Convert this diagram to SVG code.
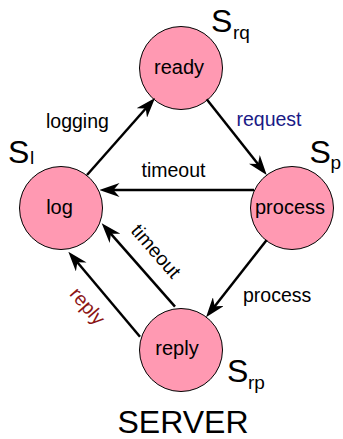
<svg xmlns="http://www.w3.org/2000/svg" width="343" height="439" viewBox="0 0 343 439">
<style>
.node{fill:#ff99b2;stroke:#000;stroke-width:1}
.nl{font-family:"Liberation Sans",Arial,sans-serif;font-size:20px;fill:#000;text-anchor:middle}
.el{font-family:"Liberation Sans",Arial,sans-serif;font-size:19.5px;fill:#000}
.st{font-family:"Liberation Sans",Arial,sans-serif;font-size:32px;fill:#000}
.sub{font-size:19px}
.edge{fill:none;stroke:#000;stroke-width:2.5;marker-end:url(#arr)}
</style>
<defs>
<marker id="arr" markerUnits="userSpaceOnUse" viewBox="0 0 20 14" refX="10" refY="7" markerWidth="20" markerHeight="14" orient="auto">
<path d="M20,7 L0,0 L6,7 L0,14 Z" fill="#000"/>
</marker>
</defs>
<g id="ready">
<circle class="node" cx="181" cy="68" r="41.5"/>
<text class="nl" x="179" y="74">ready</text>
<text class="st" x="211" y="32">S<tspan class="sub" x="233" y="39">rq</tspan></text>
</g>
<g id="log">
<circle class="node" cx="61" cy="208" r="41.5"/>
<text class="nl" x="59.5" y="214">log</text>
<text class="st" x="8" y="162.5">S<tspan class="sub" x="30" y="163.5">l</tspan></text>
</g>
<g id="process">
<circle class="node" cx="292" cy="208" r="41.5"/>
<text class="nl" x="290" y="214">process</text>
<text class="st" x="309.5" y="162.5">S<tspan class="sub" x="330.5" y="169">p</tspan></text>
</g>
<g id="reply">
<circle class="node" cx="181" cy="350" r="41.5"/>
<text class="nl" x="177" y="355">reply</text>
<text class="st" x="227" y="381.7">S<tspan class="sub" x="248" y="389">rp</tspan></text>
</g>
<g id="connectors">
<line class="edge" x1="87" y1="175" x2="148.4" y2="105.5"/>
<line class="edge" x1="206.7" y1="99.3" x2="260.5" y2="167.2"/>
<line class="edge" x1="254" y1="190" x2="109.5" y2="190"/>
<line class="edge" x1="266.7" y1="240" x2="212.2" y2="309.4"/>
<line class="edge" x1="175" y1="306.7" x2="108.3" y2="230.8"/>
<line class="edge" x1="140" y1="336.7" x2="74.8" y2="259.3"/>
<text class="el" x="46" y="128">logging</text>
<text class="el" x="236.5" y="125.7" style="fill:#1a1a86">request</text>
<text class="el" x="141.5" y="176.7">timeout</text>
<text class="el" x="243" y="301.7">process</text>
<text class="el" text-anchor="middle" transform="translate(151,255.5) rotate(49)">timeout</text>
<text class="el" text-anchor="middle" transform="translate(82.5,310.5) rotate(49)" style="fill:#8b1414">reply</text>
</g>
<text id="title" class="st" x="183" y="433" text-anchor="middle" style="font-size:32px">SERVER</text>
</svg>
